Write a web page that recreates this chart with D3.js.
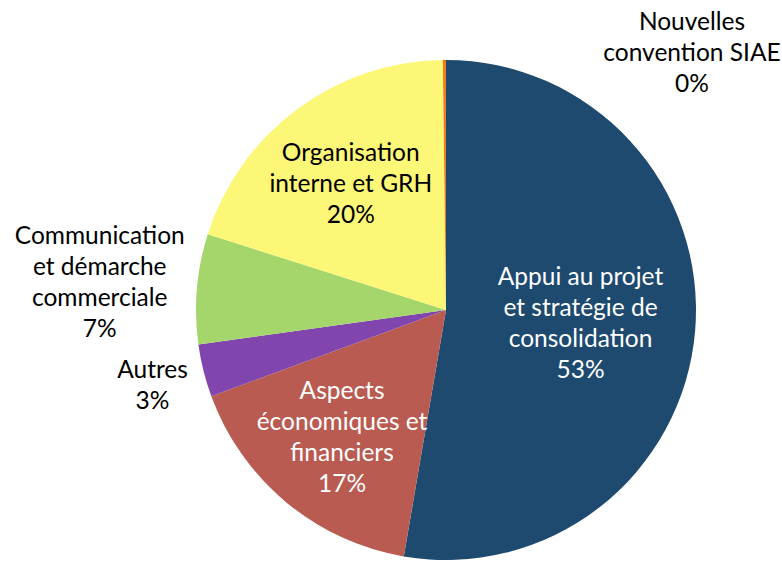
<!DOCTYPE html>
<html>
<head>
<meta charset="utf-8">
<script src="https://cdn.jsdelivr.net/npm/d3@7"></script>
<style>
  body { margin: 0; background: #fff; }
  svg text { font-family: Lato, "Open Sans", sans-serif; font-size: 24.5px; }
</style>
</head>
<body>
<svg id="pie_svg" width="782" height="561"></svg>
<script>
// values (percent of total)
var categories = [
  "Appui au projet|et stratégie de|consolidation",
  "Aspects|économiques et|financiers",
  "Autres",
  "Communication|et démarche|commerciale",
  "Organisation|interne et GRH",
  "Nouvelles|convention SIAE"
];
var values = [52.7, 16.7, 3.4, 7.1, 19.9, 0.2];
var pctLabels = ["53%", "17%", "3%", "7%", "20%", "0%"];
var colors = ["#1f4a70", "#b95b51", "#8046ad", "#a5d66b", "#fdf777", "#f07d1a"];

(function() {
  var svg = d3.select("#pie_svg"),
      cx = 446, cy = 310, radius = 250;

  var data = categories.map(function(c, i) {
    return {name: c, value: values[i], pct: pctLabels[i], color: colors[i]};
  });

  var pie = d3.pie().sort(null).value(function(d) { return d.value; });
  var arc = d3.arc().innerRadius(0).outerRadius(radius);

  var g = svg.append("g")
      .attr("transform", "translate(" + cx + "," + cy + ")");

  var arcs = pie(data);

  g.selectAll(".slice")
    .data(arcs)
    .enter().append("path")
      .attr("class", "slice")
      .attr("d", arc)
      .attr("fill", function(d) { return d.data.color; });

  // label distance as a share of the radius, and text colour
  var labelRadius = [0.54, 0.65, 1.21, 1.39, 0.64, 1.0];
  var labelColor = ["#fff", "#fff", "#000", "#000", "#000", "#000"];
  var lineH = 31;

  arcs.forEach(function(d, i) {
    var pos;
    if (i == 5) {
      // small slice label pushed out to the top right
      pos = [246, -259];
    } else {
      var r = labelRadius[i] * radius;
      pos = d3.arc().innerRadius(r).outerRadius(r).centroid(d);
    }
    var lines = d.data.name.split("|").concat([d.data.pct]);
    var top = pos[1] - (lines.length - 1) * lineH / 2;
    var t = g.append("text")
        .attr("text-anchor", "middle")
        .attr("fill", labelColor[i]);
    lines.forEach(function(l, k) {
      t.append("tspan")
        .attr("x", pos[0])
        .attr("y", top + k * lineH)
        .attr("dy", "0.42em")
        .text(l);
    });
  });
})();
</script>
</body>
</html>
